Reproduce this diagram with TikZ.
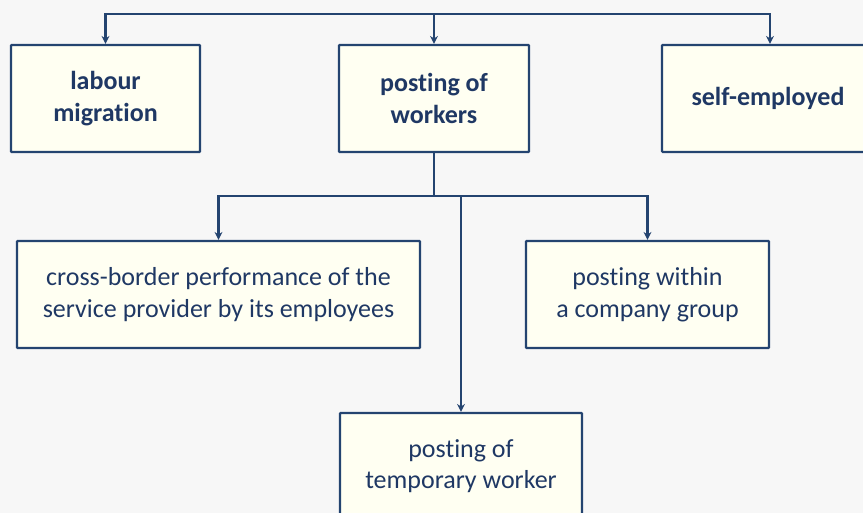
\documentclass[tikz,border=0pt]{standalone}
\usepackage{fontspec}
\setmainfont{Carlito}[Ligatures={NoCommon},RawFeature={-calt;-dlig}]
\usetikzlibrary{arrows.meta}
\newcommand{\myti}{t\kern0pt i}
\definecolor{bgc}{RGB}{247,247,247}
\definecolor{boxfill}{RGB}{255,255,242}
\definecolor{linec}{RGB}{36,68,112}
\definecolor{txtc}{RGB}{31,56,100}
\tikzset{
  box/.style={draw=linec, line width=2.2pt, fill=boxfill, rectangle, align=center,
    text=txtc, font=\fontsize{26}{31.5}\selectfont, inner sep=0pt, rounded corners=0.8pt},
  bbox/.style={box, font=\fontsize{26}{31.5}\selectfont\bfseries},
  conn/.style={draw=linec, line width=2.2pt},
  arr/.style={conn, -{Stealth[length=8pt,width=8pt]}}
}
\begin{document}
\begin{tikzpicture}[x=1pt,y=-1pt]
\fill[bgc] (0,0) rectangle (863,513);
\useasboundingbox (0,0) rectangle (863,513);
\begin{scope}
\clip (0,0) rectangle (863,513);
\node[bbox, minimum width=189pt, minimum height=107pt] (lab) at (105.5,98.5) {labour\\migra\myti on};
\node[bbox, minimum width=190pt, minimum height=107pt] (pow) at (434,98.5) {pos\myti ng of\\workers};
\node[bbox, minimum width=212pt, minimum height=107pt] (self) at (768,98.5) {self-employed};
\node[box, minimum width=403pt, minimum height=107pt] (cb) at (218.5,294.5) {cross-border performance of the\\service provider by its employees};
\node[box, minimum width=243pt, minimum height=107pt] (pwc) at (647.5,294.5) {pos\myti ng within\\a company group};
\node[box, minimum width=242pt, minimum height=106pt] (tmp) at (461,466) {pos\myti ng of\\temporary worker};
\end{scope}
\coordinate (hub) at (434,14);
\coordinate (j) at (434,196);
\draw[arr] (hub) -- (pow.north);
\draw[arr] (hub) -| (lab.north);
\draw[arr] (hub) -| ([xshift=2pt]self.north);
\draw[conn] (pow.south) -- (j);
\draw[arr] (j) -| (cb.north);
\draw[arr] (j) -| (pwc.north);
\draw[arr] (j) -| (tmp.north);
\end{tikzpicture}
\end{document}
